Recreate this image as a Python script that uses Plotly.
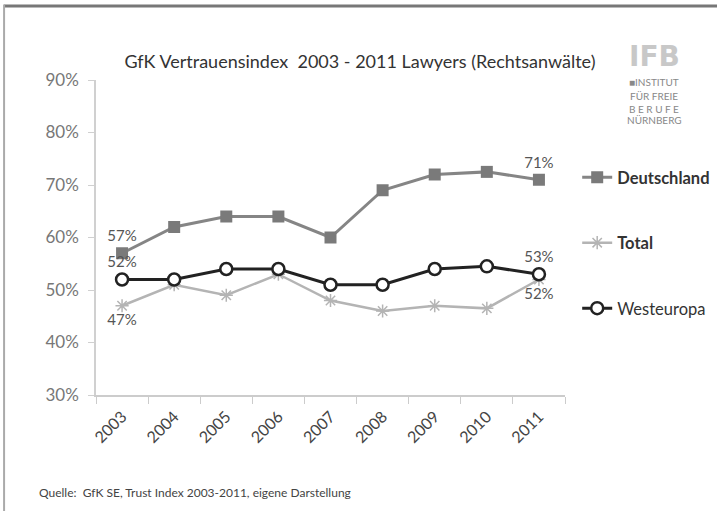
import plotly.graph_objects as go

years = ["2003", "2004", "2005", "2006", "2007", "2008", "2009", "2010", "2011"]
deutschland = [0.57, 0.62, 0.64, 0.64, 0.60, 0.69, 0.72, 0.725, 0.71]
total = [0.47, 0.51, 0.49, 0.53, 0.48, 0.46, 0.47, 0.465, 0.52]
westeuropa = [0.52, 0.52, 0.54, 0.54, 0.51, 0.51, 0.54, 0.545, 0.53]

title_text = "GfK Vertrauensindex  2003 - 2011 Lawyers (Rechtsanwälte)"
source_text = "Quelle:  GfK SE, Trust Index 2003-2011, eigene Darstellung"

FONT = "Lato, 'Open Sans', sans-serif"


def end_labels(vals):
    return [f"{round(v*100)}%" if i in (0, len(vals) - 1) else "" for i, v in enumerate(vals)]


fig = go.Figure()
fig.add_trace(go.Scatter(
    x=years, y=deutschland, name="<b>Deutschland</b>", legendgroup="a",
    mode="lines+markers+text", text=end_labels(deutschland), textposition="top center",
    textfont=dict(size=15, color="#555555", family=FONT),
    line=dict(color="#858585", width=3),
    marker=dict(symbol="square", size=12, color="#7a7a7a"),
))
fig.add_trace(go.Scatter(
    x=years, y=total, name="<b>Total</b>", legendgroup="b",
    mode="lines+markers+text", text=end_labels(total), textposition="bottom center",
    textfont=dict(size=15, color="#555555", family=FONT),
    line=dict(color="#b4b4b4", width=2.5),
    marker=dict(symbol="asterisk-open", size=11, color="#b4b4b4", line=dict(color="#b4b4b4", width=1.5)),
))
fig.add_trace(go.Scatter(
    x=years, y=westeuropa, name="Westeuropa", legendgroup="c",
    mode="lines+markers+text", text=end_labels(westeuropa), textposition="top center",
    textfont=dict(size=15, color="#555555", family=FONT),
    line=dict(color="#222222", width=3),
    marker=dict(symbol="circle", size=12, color="white", line=dict(color="#222222", width=2.5)),
))

fig.update_layout(
    width=717, height=511,
    margin=dict(l=96, r=152, t=80, b=116, autoexpand=False),
    paper_bgcolor="white", plot_bgcolor="white",
    font=dict(family=FONT, color="#555555", size=15),
    title=dict(text=title_text, x=0.502, xanchor="center", y=0.879, yanchor="middle",
               font=dict(size=18, color="#333333", family=FONT)),
    showlegend=True,
    legend=dict(x=1.026, xanchor="left", y=0.746, yanchor="top", tracegroupgap=41,
                font=dict(size=16.5, color="#333333", family=FONT), itemwidth=30,
                bgcolor="rgba(0,0,0,0)"),
    xaxis=dict(type="category", range=[-0.5, 8.5], showgrid=False, showline=True,
               linecolor="#cccccc", linewidth=2, ticks="outside", tickson="boundaries",
               ticklen=7, tickcolor="#cccccc", tickangle=-45, ticklabelstandoff=4,
               tickfont=dict(size=16, color="#444444")),
    yaxis=dict(range=[0.30, 0.90], dtick=0.10, tickformat=".0%", showgrid=False,
               showline=True, linecolor="#d0d0d0", linewidth=1.5, ticks="outside",
               ticklen=6, tickcolor="#d0d0d0", zeroline=False, ticklabelstandoff=6,
               tickfont=dict(size=17, color="#777777")),
)

# frame
fig.add_shape(type="line", xref="paper", yref="paper", x0=-0.196, x1=1.4, y0=1.235, y1=1.235,
              line=dict(color="#777777", width=3))
fig.add_shape(type="line", xref="paper", yref="paper", x0=-0.196, x1=-0.196, y0=1.24, y1=-0.5,
              line=dict(color="#aaaaaa", width=2))

# source
fig.add_annotation(text=source_text, xref="paper", yref="paper", x=-0.126, y=-0.308,
                   xanchor="left", yanchor="middle", showarrow=False,
                   font=dict(size=12, color="#444444", family=FONT))

# logo
fig.add_annotation(text="IFB", xref="paper", yref="paper", x=1.19, y=1.076, xanchor="center",
                   yanchor="middle", showarrow=False,
                   font=dict(size=28, color="#c8c8c8", family="DejaVu Sans", weight="bold"))
logo_lines = ["■INSTITUT", "FÜR FREIE", "B E R U F E", "NÜRNBERG"]
logo_y = [0.994, 0.949, 0.908, 0.873]
for t, yy in zip(logo_lines, logo_y):
    fig.add_annotation(text=t, xref="paper", yref="paper", x=1.19, y=yy,
                       xanchor="center", yanchor="middle", showarrow=False,
                       font=dict(size=10, color="#888888", family=FONT))

fig.write_html("out.html", config={"displayModeBar": False},
               post_script="document.body.style.margin='0px';")
